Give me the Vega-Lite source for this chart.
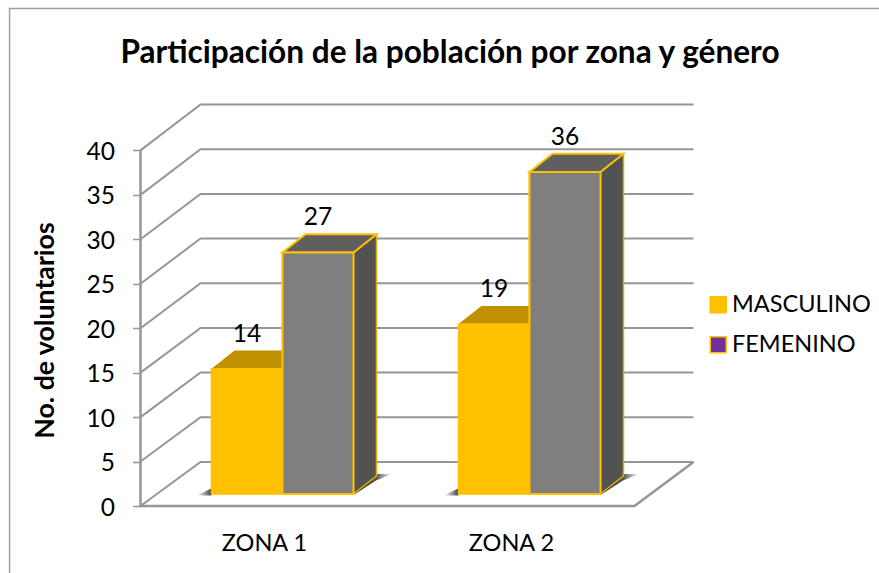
{
"$schema":"https://vega.github.io/schema/vega-lite/v6.json",
"width":553,"height":406,
"autosize":{"type":"none"},
"padding":{"left":140.5,"top":100,"right":185.5,"bottom":67},
"background":"white",
"config":{"view":{"stroke":null},"font":"Lato"},
"title":{"text":"Participación de la población por zona y género","font":"Lato","fontSize":31.6,"fontWeight":"bold","color":"#000000","anchor":"middle","dx":33,"offset":-64},
"datasets":{
"marco":[
{"linea":"borde","x":-0.53,"y":-7.54},{"linea":"borde","x":-0.53,"y":55.96},{"linea":"borde","x":2.995,"y":55.96},
{"linea":"piso","x":0,"y":40},{"linea":"piso","x":0,"y":0},{"linea":"piso","x":2,"y":0},{"linea":"piso","x":2.239,"y":4.96}],
"rejilla":[
{"v":0,"x":0,"y":0},{"v":0,"x":0.243,"y":4.96},{"v":0,"x":2.239,"y":4.96},
{"v":5,"x":0,"y":5},{"v":5,"x":0.243,"y":9.99},{"v":5,"x":2.239,"y":9.99},
{"v":10,"x":0,"y":10},{"v":10,"x":0.243,"y":15.01},{"v":10,"x":2.239,"y":15.01},
{"v":15,"x":0,"y":15},{"v":15,"x":0.243,"y":20.03},{"v":15,"x":2.239,"y":20.03},
{"v":20,"x":0,"y":20},{"v":20,"x":0.243,"y":25.06},{"v":20,"x":2.239,"y":25.06},
{"v":25,"x":0,"y":25},{"v":25,"x":0.243,"y":30.09},{"v":25,"x":2.239,"y":30.09},
{"v":30,"x":0,"y":30},{"v":30,"x":0.243,"y":35.1},{"v":30,"x":2.239,"y":35.1},
{"v":35,"x":0,"y":35},{"v":35,"x":0.243,"y":40.13},{"v":35,"x":2.239,"y":40.13},
{"v":40,"x":0,"y":40},{"v":40,"x":0.243,"y":45.17},{"v":40,"x":2.239,"y":45.17}],
"barras":[
{"zona":"ZONA 1","serie":"MASCULINO","valor":14,"x":0.2874,"x2":0.5749,"xm":0.4312,"base":1.35,"tope":15.43,"fondo":17.48},
{"zona":"ZONA 1","serie":"FEMENINO","valor":27,"x":0.5749,"x2":0.8623,"xm":0.7186,"base":1.35,"tope":28.51,"fondo":30.56},
{"zona":"ZONA 2","serie":"MASCULINO","valor":19,"x":1.2874,"x2":1.5749,"xm":1.4312,"base":1.35,"tope":20.46,"fondo":22.51},
{"zona":"ZONA 2","serie":"FEMENINO","valor":36,"x":1.5749,"x2":1.8623,"xm":1.7186,"base":1.35,"tope":37.57,"fondo":39.62}],
"caras":[
{"id":"m1","cara":"topeM","x":0.2874,"y":15.43,"y2":15.43},{"id":"m1","cara":"topeM","x":0.3805,"y":15.43,"y2":17.48},{"id":"m1","cara":"topeM","x":0.5749,"y":15.43,"y2":17.48},
{"id":"m2","cara":"topeM","x":1.2874,"y":20.46,"y2":20.46},{"id":"m2","cara":"topeM","x":1.3805,"y":20.46,"y2":22.51},{"id":"m2","cara":"topeM","x":1.5749,"y":20.46,"y2":22.51},
{"id":"f1t","cara":"topeF","x":0.5749,"y":28.51,"y2":28.51},{"id":"f1t","cara":"topeF","x":0.668,"y":28.51,"y2":30.56},{"id":"f1t","cara":"topeF","x":0.8623,"y":28.51,"y2":30.56},{"id":"f1t","cara":"topeF","x":0.9554,"y":30.56,"y2":30.56},
{"id":"f2t","cara":"topeF","x":1.5749,"y":37.57,"y2":37.57},{"id":"f2t","cara":"topeF","x":1.668,"y":37.57,"y2":39.62},{"id":"f2t","cara":"topeF","x":1.8623,"y":37.57,"y2":39.62},{"id":"f2t","cara":"topeF","x":1.9554,"y":39.62,"y2":39.62},
{"id":"f1s","cara":"lado","x":0.8623,"y":1.35,"y2":28.51},{"id":"f1s","cara":"lado","x":0.9554,"y":3.4,"y2":30.56},
{"id":"f2s","cara":"lado","x":1.8623,"y":1.35,"y2":37.57},{"id":"f2s","cara":"lado","x":1.9554,"y":3.4,"y2":39.62}],
"sombras":[
{"id":"i1","lado":"izq","x":0.2287,"y":1.18,"y2":1.18},{"id":"i1","lado":"izq","x":0.2874,"y":1.18,"y2":2.0},
{"id":"i2","lado":"izq","x":1.2287,"y":1.18,"y2":1.18},{"id":"i2","lado":"izq","x":1.2874,"y":1.18,"y2":2.0},
{"id":"d1","lado":"der","x":0.8603,"y":1.2,"y2":1.4},{"id":"d1","lado":"der","x":0.9554,"y":2.9,"y2":3.6},{"id":"d1","lado":"der","x":1.018,"y":3.6,"y2":3.6},
{"id":"d2","lado":"der","x":1.8603,"y":1.2,"y2":1.4},{"id":"d2","lado":"der","x":1.9554,"y":2.9,"y2":3.6},{"id":"d2","lado":"der","x":2.018,"y":3.6,"y2":3.6}]
},
"encoding":{
"x":{"field":"x","type":"quantitative","scale":{"domain":[0,2.2389],"nice":false,"zero":false},
 "axis":{"values":[0.5,1.5],"labelExpr":"datum.value==0.5?'ZONA 1':'ZONA 2'","title":null,"grid":false,"domain":false,"ticks":false,"labelFont":"Lato","labelFontSize":23.5,"labelColor":"#000000","labelPadding":25}},
"y":{"field":"y","type":"quantitative","scale":{"domain":[0,45.67],"nice":false,"zero":false},
 "axis":{"values":[0,5,10,15,20,25,30,35,40],"title":"No. de voluntarios","titleFont":"Lato","titleFontSize":26.7,"titleFontWeight":"bold","titleColor":"#000000","titleX":-81,"titleY":230,"titleAnchor":"middle","grid":false,"domain":false,"tickColor":"#969696","tickSize":8,"tickWidth":1.5,"labelFont":"Lato","labelFontSize":24.5,"labelColor":"#000000","labelPadding":18,"labelOffset":2}}
},
"layer":[
{"data":{"name":"rejilla"},"mark":{"type":"line","color":"#969696","strokeWidth":2,"clip":false},"encoding":{"detail":{"field":"v"}}},
{"data":{"name":"marco"},"transform":[{"filter":"datum.linea=='piso'"}],"mark":{"type":"line","color":"#969696","strokeWidth":2.5,"clip":false},"encoding":{"order":{"field":"o"}}},
{"data":{"name":"marco"},"transform":[{"filter":"datum.linea=='borde'"}],"mark":{"type":"line","color":"#A0A0A0","strokeWidth":1.5,"clip":false},"encoding":{"order":{"field":"o"}}},
{"data":{"name":"sombras"},"transform":[{"filter":"datum.lado=='izq'"}],"mark":{"type":"area","fill":{"gradient":"linear","x1":0,"x2":1,"y1":0,"y2":0,"stops":[{"offset":0,"color":"#ffffff"},{"offset":1,"color":"#444444"}]}},"encoding":{"detail":{"field":"id"},"y2":{"field":"y2"}}},
{"data":{"name":"sombras"},"transform":[{"filter":"datum.lado=='der'"}],"mark":{"type":"area","fill":{"gradient":"linear","x1":0,"x2":1,"y1":0,"y2":0,"stops":[{"offset":0,"color":"#222222"},{"offset":0.6,"color":"#555555"},{"offset":1,"color":"#ffffff"}]}},"encoding":{"detail":{"field":"id"},"y2":{"field":"y2"}}},
{"data":{"name":"caras"},"transform":[{"filter":"datum.cara=='topeM'"}],"mark":{"type":"area","fill":"#C09000"},"encoding":{"detail":{"field":"id"},"y2":{"field":"y2"}}},
{"data":{"name":"barras"},"mark":{"type":"rect","stroke":"#FFC000","strokeWidth":1.5},
 "encoding":{"x":{"field":"x","type":"quantitative"},"x2":{"field":"x2"},"y":{"field":"base","type":"quantitative"},"y2":{"field":"tope"},
 "fill":{"field":"serie","type":"nominal","scale":{"domain":["MASCULINO","FEMENINO"],"range":["#FFC000","#7030A0"]},
  "legend":{"title":null,"orient":"none","legendX":566,"legendY":193,"symbolType":"square","symbolSize":256,"symbolStrokeColor":"#FFC000","symbolStrokeWidth":1.5,"labelFont":"Lato","labelFontSize":23.5,"labelColor":"#000000","labelOffset":2,"rowPadding":15,"padding":0}}}},
{"data":{"name":"caras"},"transform":[{"filter":"datum.cara=='lado'"}],"mark":{"type":"area","fill":"#525252","stroke":"#E0AC00","strokeWidth":1.5},"encoding":{"detail":{"field":"id"},"y2":{"field":"y2"}}},
{"data":{"name":"caras"},"transform":[{"filter":"datum.cara=='topeF'"}],"mark":{"type":"area","fill":"#5F5F5F","stroke":"#FFC000","strokeWidth":2},"encoding":{"detail":{"field":"id"},"y2":{"field":"y2"}}},
{"data":{"name":"barras"},"transform":[{"filter":"datum.serie=='FEMENINO'"}],"mark":{"type":"rect","fill":"#7F7F7F","stroke":"#FFC000","strokeWidth":2},
 "encoding":{"x":{"field":"x","type":"quantitative"},"x2":{"field":"x2"},"y":{"field":"base","type":"quantitative"},"y2":{"field":"tope"}}},
{"data":{"name":"barras"},"mark":{"type":"text","font":"Lato","fontSize":24.5,"color":"#000000","baseline":"middle","align":"center","dy":-16},
 "encoding":{"x":{"field":"xm","type":"quantitative"},"y":{"field":"fondo","type":"quantitative"},"text":{"field":"valor","type":"quantitative"}}}
]
}
